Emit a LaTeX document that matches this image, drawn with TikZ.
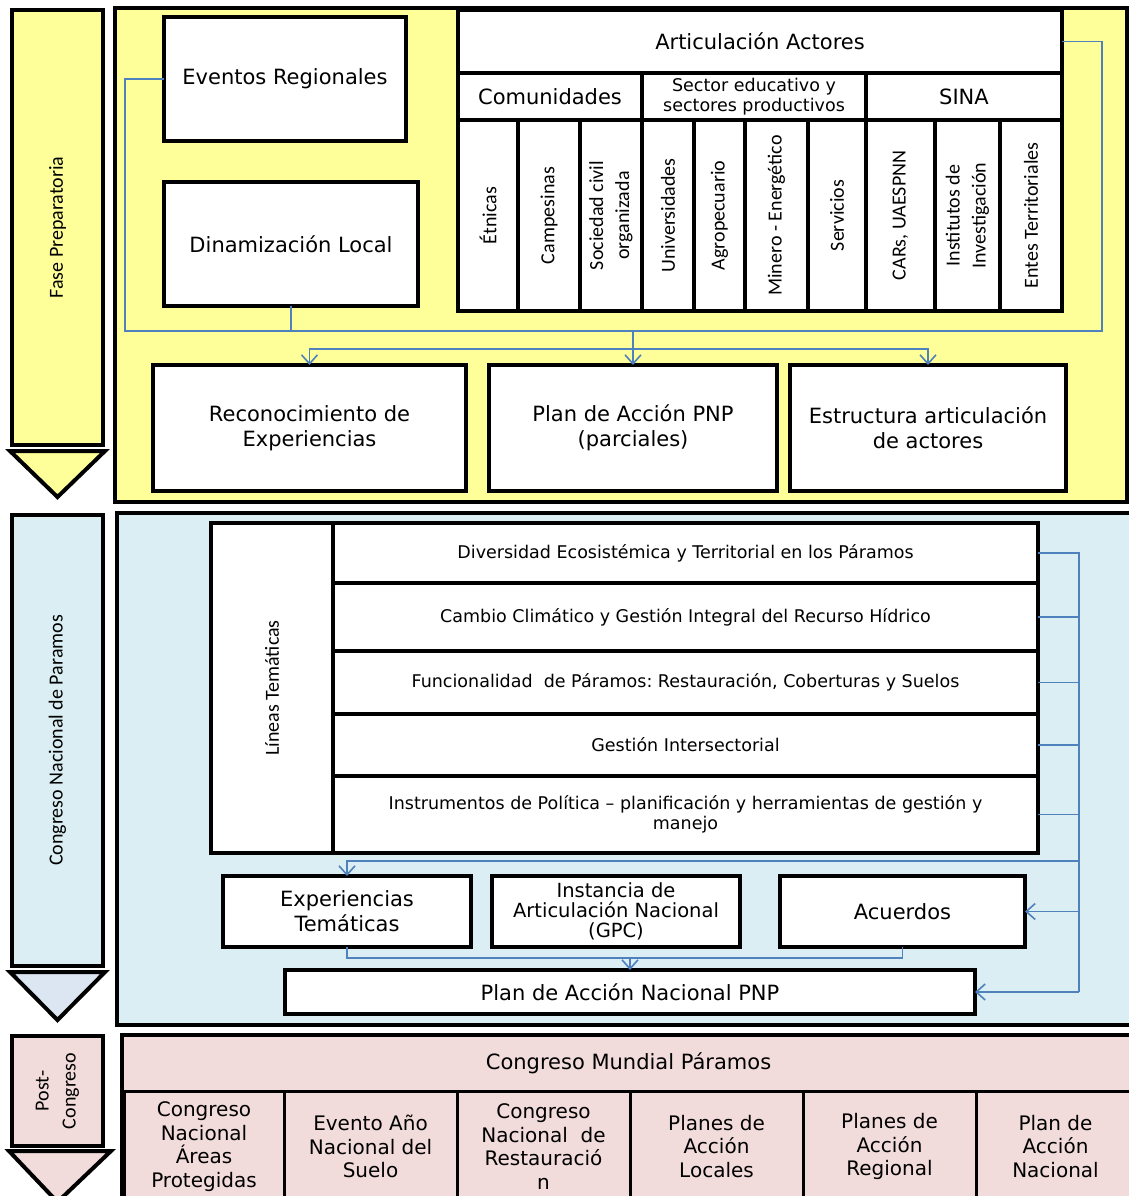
\documentclass[tikz,border=0pt]{standalone}
\usepackage{fontspec}
\setmainfont{DejaVu Sans}
\newfontfamily\narrowfont{Carlito}
\usetikzlibrary{arrows.meta}
\frenchspacing
\definecolor{yel}{HTML}{FFFF99}
\definecolor{lblue}{HTML}{DAEEF3}
\definecolor{tblue}{HTML}{DCE6F2}
\definecolor{pnk}{HTML}{F2DCDB}
\definecolor{linkblue}{HTML}{4F81BD}
\tikzstyle{box}=[draw=black, line width=4pt, fill=white, inner sep=0pt, outer sep=0pt,
                 align=center, font=\fontsize{21}{25}\selectfont]
\tikzstyle{sbox}=[box, font=\fontsize{17.5}{20}\selectfont]
\tikzstyle{vbox}=[box, rotate=90, font=\narrowfont\fontsize{20}{26}\selectfont]
\tikzstyle{pbox}=[box, fill=pnk, line width=3pt]
\tikzstyle{phase}=[draw=black, line width=4pt, rotate=90, inner sep=0pt, align=center,
                   font=\narrowfont\fontsize{20}{27}\selectfont]
\tikzstyle{panel}=[draw=black, line width=4pt, line join=miter]
\tikzstyle{link}=[draw=linkblue, line width=1.6pt]
\tikzstyle{into}=[link, -{Straight Barb[length=9pt,width=16pt]}]

\begin{document}
\begin{tikzpicture}[x=1pt, y=-1pt]
    \useasboundingbox (0,0) rectangle (1129,1196);
    % Fase preparatoria
    \draw[panel, fill=yel] (115,8) rectangle (1127,502);
    \node[phase, fill=yel, minimum width=435, minimum height=91] (P1) at (57.5,227.5) {Fase Preparatoria};
    \draw[panel, fill=yel] (10,451) -- (105,451) -- (57.5,497) -- cycle;
    \node[box] (ER) at (285,79) [minimum width=242, minimum height=124] {Eventos Regionales};
    \node[box] (DL) at (291,244) [minimum width=254, minimum height=124] {Dinamización Local};
    \node[box] (AA) at (760,41.5) [minimum width=604, minimum height=63] {Articulación Actores};
    \node[box] (COM) at (550,96.5) [minimum width=184, minimum height=47] {Comunidades};
    \node[sbox] (SEC) at (754,96.5) [minimum width=224, minimum height=47] {Sector educativo y\\sectores productivos};
    \node[box] (SINA) at (964,96.5) [minimum width=196, minimum height=47] {SINA};
    \foreach \xa/\xb/\txt [count=\i] in {458/518/Étnicas, 518/580/Campesinas,
          580/642/{Sociedad civil\\organizada}, 642/694/Universidades, 694/745/Agropecuario,
          745/808/Minero - Energético, 808/866/Servicios, 866/935/{CARs, UAESPNN},
          935/1000/{Institutos de\\Investigación}, 1000/1062/Entes Territoriales}
      \node[vbox, minimum width=191, minimum height={\xb-\xa}] (col\i) at ({(\xa+\xb)/2},215.5) {\txt};
    \node[box] (RE) at (309.5,428) [minimum width=313, minimum height=126] {Reconocimiento de\\Experiencias};
    \node[box] (PA) at (633,428) [minimum width=288, minimum height=126] {Plan de Acción PNP\\(parciales)};
    \node[box] (EA) at (928,428) [minimum width=276, minimum height=126] {Estructura articulación\\de actores};
    \coordinate (bus) at (633,331);
    \coordinate (bus2) at (633,349);
    \draw[link] (ER.west) -- ++(-39,0) |- (bus);
    \draw[link] (DL.south) |- (bus);
    \draw[link] (AA.east) -- ++(40,0) |- (bus);
    \draw[into] (bus) -- (PA.north);
    \draw[into] (bus2) -| (RE.north);
    \draw[into] (bus2) -| (EA.north);
    % Congreso nacional
    \draw[panel, fill=lblue] (117,513) rectangle (1135,1025);
    \node[phase, fill=lblue, minimum width=451, minimum height=91] (P2) at (57.5,740.5) {Congreso Nacional de Paramos};
    \draw[panel, fill=tblue] (10,972) -- (105,972) -- (57.5,1020) -- cycle;
    \node[vbox] (LT) at (272,688) [minimum width=330, minimum height=122] {Líneas Temáticas};
    \node[sbox] (T1) at (685.5,553) [minimum width=705, minimum height=60] {Diversidad Ecosistémica y Territorial en los Páramos};
    \node[sbox] (T2) at (685.5,617) [minimum width=705, minimum height=68] {Cambio Climático y Gestión Integral del Recurso Hídrico};
    \node[sbox] (T3) at (685.5,682.5) [minimum width=705, minimum height=63] {Funcionalidad\ \ de Páramos: Restauración, Coberturas y Suelos};
    \node[sbox] (T4) at (685.5,745) [minimum width=705, minimum height=62] {Gestión Intersectorial};
    \node[sbox] (T5) at (685.5,814.5) [minimum width=705, minimum height=77] {Instrumentos de Política -- planificación y herramientas de gestión y\\manejo};
    \node[box] (ET) at (347,911.5) [minimum width=248, minimum height=71] {Experiencias\\Temáticas};
    \node[box, font=\fontsize{19.5}{20}\selectfont] (IN) at (616,911.5) [minimum width=248, minimum height=71] {Instancia de\\Articulación Nacional\\(GPC)};
    \node[box] (AC) at (902.5,911.5) [minimum width=245, minimum height=71] {Acuerdos};
    \node[box] (PN) at (630,992) [minimum width=690, minimum height=44] {Plan de Acción Nacional PNP};
    \coordinate (rtop) at (1079,553);
    \coordinate (rmid) at (1079,861);
    \coordinate (bus3) at (630,958);
    \draw[link] (T1.east) -- (rtop) -- (PN.east -| rtop);
    \foreach \n in {T2,T3,T4,T5}
      \draw[link] (\n.east) -- (\n.east -| rtop);
    \draw[into] (rmid) -| (ET.north);
    \draw[into] (AC.east -| rtop) -- (AC.east);
    \draw[into] (PN.east -| rtop) -- (PN.east);
    \draw[link] (ET.south) |- (bus3);
    \draw[link] (AC.south) |- (bus3);
    \draw[into] (bus3) -- (PN.north);
    % Post-congreso
    \draw[panel, fill=pnk] (122,1035) rectangle (1135,1202);
    \node[phase, fill=pnk, minimum width=110, minimum height=91] (P3) at (57.5,1091) {Post-\\Congreso};
    \draw[panel, fill=pnk] (9,1151) -- (111,1151) -- (57.5,1202) -- cycle;
    \node[pbox] (CM) at (628.5,1063) [minimum width=1013, minimum height=56] {Congreso Mundial Páramos};
    \foreach \xa/\xb/\txt [count=\i] in {124/284/{Congreso\\Nacional\\Áreas\\Protegidas},
          284/457/{Evento Año\\Nacional del\\Suelo}, 457/630/{Congreso\\Nacional\ \ de\\Restauració\\n},
          630/803/{Planes de\\Acción\\Locales}, 803/976/{Planes de\\Acción\\Regional},
          976/1135/{Plan de\\Acción\\Nacional}}
      \node[pbox, font=\fontsize{20}{23.5}\selectfont, minimum width={\xb-\xa}, minimum height=111]
        (ev\i) at ({(\xa+\xb)/2},1146.5) {\txt};
\end{tikzpicture}
\end{document}
